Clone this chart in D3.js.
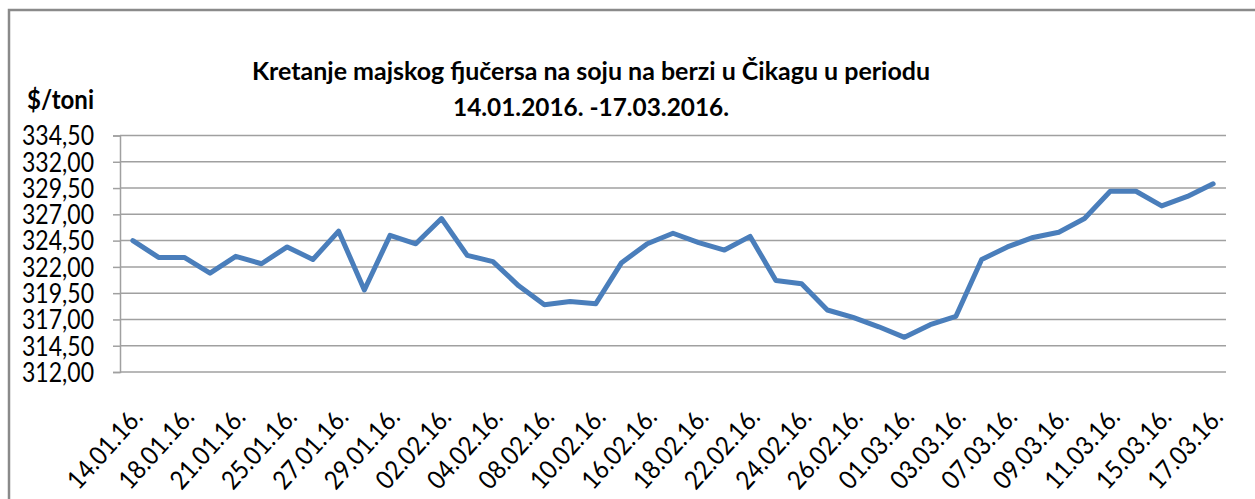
<!DOCTYPE html>
<html>
<head>
<meta charset="utf-8">
<script src="https://cdn.jsdelivr.net/npm/d3@7"></script>
<style>
  html, body { margin: 0; padding: 0; background: #fff; }
  svg { display: block; }
  text { font-family: Lato, "Open Sans", sans-serif; fill: #000; }
</style>
</head>
<body>
<svg id="chart" width="1255" height="499"></svg>
<script>
'use strict';

const dates = [
  '14.01.16.', '15.01.16.', '18.01.16.', '19.01.16.', '21.01.16.', '22.01.16.',
  '25.01.16.', '26.01.16.', '27.01.16.', '28.01.16.', '29.01.16.', '01.02.16.',
  '02.02.16.', '03.02.16.', '04.02.16.', '05.02.16.', '08.02.16.', '09.02.16.',
  '10.02.16.', '11.02.16.', '16.02.16.', '17.02.16.', '18.02.16.', '19.02.16.',
  '22.02.16.', '23.02.16.', '24.02.16.', '25.02.16.', '26.02.16.', '29.02.16.',
  '01.03.16.', '02.03.16.', '03.03.16.', '04.03.16.', '07.03.16.', '08.03.16.',
  '09.03.16.', '10.03.16.', '11.03.16.', '14.03.16.', '15.03.16.', '16.03.16.',
  '17.03.16.'
];

const prices = [
  324.5, 322.9, 322.9, 321.4, 323.0, 322.3, 323.9, 322.7, 325.4, 319.8,
  325.0, 324.2, 326.6, 323.1, 322.5, 320.2, 318.4, 318.7, 318.5, 322.4,
  324.2, 325.2, 324.3, 323.6, 324.9, 320.7, 320.4, 317.9, 317.2, 316.3,
  315.3, 316.5, 317.3, 322.7, 323.9, 324.8, 325.3, 326.6, 329.2, 329.2,
  327.8, 328.7, 329.9
];

const yTicks = [312, 314.5, 317, 319.5, 322, 324.5, 327, 329.5, 332, 334.5];

const titleLines = [
  'Kretanje majskog fjučersa na soju na berzi u Čikagu u periodu',
  '14.01.2016. -17.03.2016.'
];
const yLabel = '$/toni';

const svg = d3.select('#chart');

const plot = { left: 120, right: 1226, top: 135.5, bottom: 372 };

const x = d3.scalePoint()
  .domain(dates)
  .range([plot.left, plot.right])
  .padding(0.5);

const y = d3.scaleLinear()
  .domain([d3.min(yTicks), d3.max(yTicks)])
  .range([plot.bottom, plot.top]);

const fmt = (v) => d3.format('.2f')(v).replace('.', ',');

// outer frame (only top and left edges are in view)
svg.append('path')
  .attr('d', 'M9,1000 L9,10 L1300,10')
  .attr('fill', 'none')
  .attr('stroke', '#8a8a8a')
  .attr('stroke-width', 2.5);

// grid
svg.append('g')
  .selectAll('line')
  .data(yTicks)
  .join('line')
  .attr('x1', plot.left)
  .attr('x2', plot.right)
  .attr('y1', (d) => y(d))
  .attr('y2', (d) => y(d))
  .attr('stroke', '#a0a0a0')
  .attr('stroke-width', 1.5);

// y axis
const yAxis = svg.append('g')
  .attr('transform', `translate(${plot.left},0)`)
  .call(d3.axisLeft(y).tickValues(yTicks).tickSize(7).tickPadding(19).tickFormat(fmt));

yAxis.select('.domain').attr('stroke', '#a0a0a0').attr('stroke-width', 1.5);
yAxis.selectAll('.tick line').attr('stroke', '#a0a0a0').attr('stroke-width', 1.5);
yAxis.selectAll('.tick text')
  .attr('font-size', 26)
  .attr('font-family', 'Lato, sans-serif')
  .attr('fill', '#000')
  .attr('dy', '0.36em')
  .attr('textLength', 72)
  .attr('lengthAdjust', 'spacingAndGlyphs');

// x axis, every second date
const xAxis = svg.append('g')
  .attr('transform', `translate(0,${plot.bottom})`)
  .call(d3.axisBottom(x).tickValues(dates.filter((d, i) => i % 2 === 0)).tickSize(0));

xAxis.select('.domain').remove();
xAxis.selectAll('.tick text')
  .attr('x', 0)
  .attr('y', 0)
  .attr('dy', '0.35em')
  .attr('text-anchor', 'end')
  .attr('transform', 'translate(4,40) rotate(-48)')
  .attr('font-size', 26)
  .attr('font-family', 'Lato, sans-serif')
  .attr('fill', '#000')
  .attr('textLength', 98)
  .attr('lengthAdjust', 'spacingAndGlyphs');

// price line
const line = d3.line()
  .x((d, i) => x(dates[i]))
  .y((d) => y(d));

svg.append('path')
  .datum(prices)
  .attr('d', line)
  .attr('fill', 'none')
  .attr('stroke', '#4a7ebb')
  .attr('stroke-width', 5)
  .attr('stroke-linejoin', 'round')
  .attr('stroke-linecap', 'round');

// titles
svg.append('text')
  .attr('x', 591)
  .attr('y', 80)
  .attr('text-anchor', 'middle')
  .attr('font-weight', 'bold')
  .attr('font-size', 25)
  .attr('textLength', 678)
  .attr('lengthAdjust', 'spacingAndGlyphs')
  .text(titleLines[0]);

svg.append('text')
  .attr('x', 591)
  .attr('y', 116)
  .attr('text-anchor', 'middle')
  .attr('font-weight', 'bold')
  .attr('font-size', 25)
  .attr('textLength', 276)
  .attr('lengthAdjust', 'spacingAndGlyphs')
  .text(titleLines[1]);

svg.append('text')
  .attr('x', 27)
  .attr('y', 109)
  .attr('font-weight', 'bold')
  .attr('font-size', 27)
  .attr('textLength', 67)
  .attr('lengthAdjust', 'spacingAndGlyphs')
  .text(yLabel);
</script>
</body>
</html>
